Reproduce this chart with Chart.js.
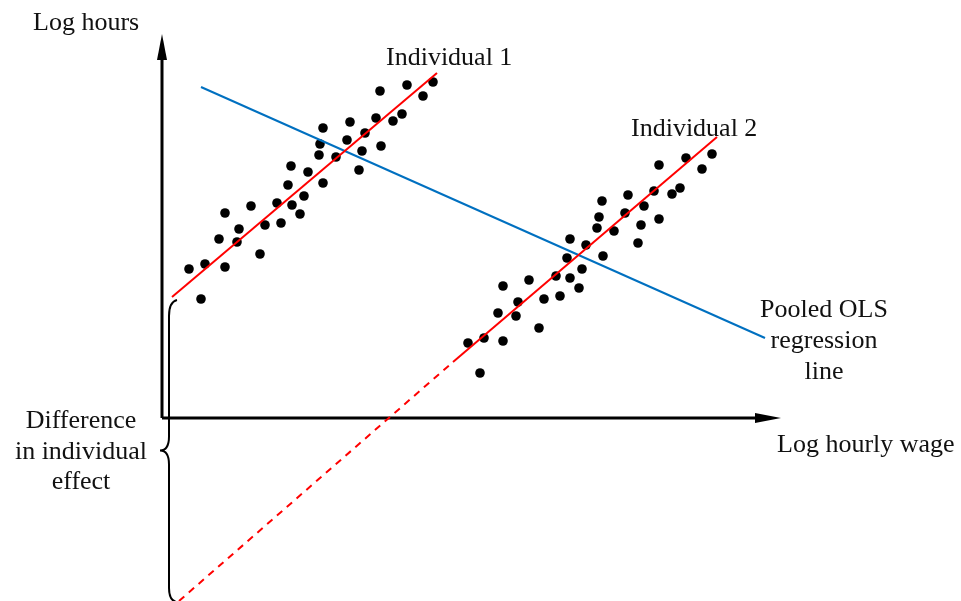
<!DOCTYPE html>
<html>
<head>
<meta charset="utf-8">
<script src="https://cdn.jsdelivr.net/npm/chart.js@4/dist/chart.umd.min.js"></script>
<style>
  html, body { margin: 0; padding: 0; background: #fff; }
  #wrap { width: 961px; height: 601px; position: relative; }
</style>
</head>
<body>
<div id="wrap"><canvas id="panelChart"></canvas></div>
<script>
// Individual 1 observations (log hourly wage, log hours), arbitrary units
const ind1X = [2.7, 4.3, 3.9, 6.3, 5.7, 6.3, 7.7, 7.5, 8.9, 9.8, 10.3, 11.5, 11.9, 12.6, 13.0, 12.9, 13.8, 14.2, 14.6,
  16.1, 15.7, 15.8, 16.1, 17.4, 18.5, 18.8, 19.7, 20.0, 20.3, 21.4, 21.9, 21.8, 23.1, 24.0, 24.5, 26.1, 27.1]
const ind1Y = [14.9, 15.4, 11.9, 15.1, 17.9, 20.5, 18.9, 17.6, 21.2, 16.4, 19.3, 21.5, 19.5, 23.3, 21.3, 25.2, 20.4, 22.2, 24.6,
  23.5, 26.3, 27.4, 29.0, 26.1, 27.8, 29.6, 24.8, 26.7, 28.5, 30.0, 27.2, 32.7, 29.7, 30.4, 33.3, 32.2, 33.6]

// Individual 2 observations
const ind2X = [30.6, 31.8, 32.2, 34.1, 33.6, 34.1, 35.4, 35.6, 36.7, 37.7, 38.2, 39.4, 39.8, 40.8, 41.7, 42.0, 40.5, 40.8, 42.4,
  44.1, 43.5, 43.7, 44.0, 45.2, 46.3, 46.6, 47.6, 47.9, 48.2, 49.2, 49.7, 49.7, 51.0, 51.8, 52.4, 54.0, 55.0]
const ind2Y = [7.5, 4.5, 8.0, 7.7, 10.5, 13.2, 10.2, 11.6, 13.8, 9.0, 11.9, 14.2, 12.2, 14.0, 13.0, 14.9, 16.0, 17.9, 17.3,
  16.2, 19.0, 20.1, 21.7, 18.7, 20.5, 22.3, 17.5, 19.3, 21.2, 22.7, 19.9, 25.3, 22.4, 23.0, 26.0, 24.9, 26.4]

// Fitted lines (end points)
const fit1X = [1.0, 27.5], fit1Y = [12.1, 34.5]
const fit2X = [29.1, 55.5], fit2Y = [5.6, 28.1]
const fit2ExtX = [1.7, 29.1], fit2ExtY = [-18.3, 5.6]
const pooledX = [3.9, 60.3], pooledY = [33.1, 8.0]

// Axes
const yAxisX = [0, 0], yAxisY = [0, 36.0]
const xAxisX = [0, 59.5], xAxisY = [0, 0]

const xRange = [-16.2, 79.9]
const yRange = [-18.3, 41.8]

const toPts = (xs, ys) => xs.map((x, i) => ({ x, y: ys[i] }))

// arrows, brace and captions
const diagramExtras = {
  id: 'diagramExtras',
  afterDatasetsDraw(chart) {
    const { ctx, scales: { x, y } } = chart
    const px = v => x.getPixelForValue(v)
    const py = v => y.getPixelForValue(v)
    ctx.save()

    // arrowheads
    ctx.fillStyle = '#000'
    const ox = px(0), oy = py(0)
    const yTip = py(38.4), xTip = px(61.9)
    ctx.beginPath()
    ctx.moveTo(ox, yTip)
    ctx.lineTo(ox - 5, yTip + 26)
    ctx.lineTo(ox + 5, yTip + 26)
    ctx.closePath()
    ctx.fill()
    ctx.beginPath()
    ctx.moveTo(xTip, oy)
    ctx.lineTo(xTip - 26, oy - 5)
    ctx.lineTo(xTip - 26, oy + 5)
    ctx.closePath()
    ctx.fill()

    // curly brace between the two intercepts
    const topX = px(fit1X[0]) + 5, topY = py(fit1Y[0]) + 3
    const botX = px(fit2ExtX[0]) - 3, botY = py(fit2ExtY[0])
    const spine = px(0.7), tipX = px(-0.2)
    const midY = (topY + botY) / 2
    ctx.strokeStyle = '#000'
    ctx.lineWidth = 2
    ctx.beginPath()
    ctx.moveTo(topX, topY)
    ctx.quadraticCurveTo(spine, topY + 2, spine, topY + 16)
    ctx.lineTo(spine, midY - 14)
    ctx.quadraticCurveTo(spine, midY, tipX, midY)
    ctx.quadraticCurveTo(spine, midY, spine, midY + 14)
    ctx.lineTo(spine, botY - 13)
    ctx.quadraticCurveTo(spine, botY - 1, botX, botY + 1)
    ctx.stroke()

    // captions
    ctx.fillStyle = '#111'
    ctx.font = '26px "Liberation Serif", "Times New Roman", serif'
    ctx.textBaseline = 'alphabetic'
    ctx.textAlign = 'left'
    ctx.fillText('Log hours', px(-12.9), py(38.8))
    ctx.fillText('Individual 1', px(22.4), py(35.3))
    ctx.fillText('Individual 2', px(46.9), py(28.2))
    ctx.fillText('Log hourly wage', px(61.5), py(-3.4))
    ctx.textAlign = 'center'
    ctx.fillText('Pooled OLS', px(66.2), py(10.1))
    ctx.fillText('regression', px(66.2), py(7.0))
    ctx.fillText('line', px(66.2), py(3.9))
    ctx.fillText('Difference', px(-8.1), py(-1.0))
    ctx.fillText('in individual', px(-8.1), py(-4.1))
    ctx.fillText('effect', px(-8.1), py(-7.1))
    ctx.restore()
  }
}

const lineSet = (data, color, width, extra) => Object.assign({
  type: 'line', data, borderColor: color, borderWidth: width,
  pointRadius: 0, fill: false, tension: 0, showLine: true
}, extra || {})

// eslint-disable-next-line no-undef
new Chart(document.getElementById('panelChart').getContext('2d'), {
  type: 'scatter',
  data: {
    datasets: [
      lineSet(toPts(fit1X, fit1Y), '#ff0000', 2),
      lineSet(toPts(fit2X, fit2Y), '#ff0000', 2),
      lineSet(toPts(fit2ExtX, fit2ExtY), '#ff0000', 2, { borderDash: [7, 6] }),
      lineSet(toPts(pooledX, pooledY), '#0070c0', 2),
      lineSet(toPts(yAxisX, yAxisY), '#000', 3),
      lineSet(toPts(xAxisX, xAxisY), '#000', 3),
      {
        label: 'Individual 1',
        data: toPts(ind1X, ind1Y),
        backgroundColor: '#000', borderColor: '#000',
        pointRadius: 4.8, borderWidth: 0
      },
      {
        label: 'Individual 2',
        data: toPts(ind2X, ind2Y),
        backgroundColor: '#000', borderColor: '#000',
        pointRadius: 4.8, borderWidth: 0
      }
    ]
  },
  options: {
    responsive: true,
    maintainAspectRatio: false,
    animation: false,
    layout: { padding: 0, autoPadding: false },
    plugins: { legend: { display: false }, tooltip: { enabled: false } },
    scales: {
      x: { type: 'linear', min: xRange[0], max: xRange[1], display: false },
      y: { type: 'linear', min: yRange[0], max: yRange[1], display: false }
    }
  },
  plugins: [diagramExtras]
})
</script>
</body>
</html>
